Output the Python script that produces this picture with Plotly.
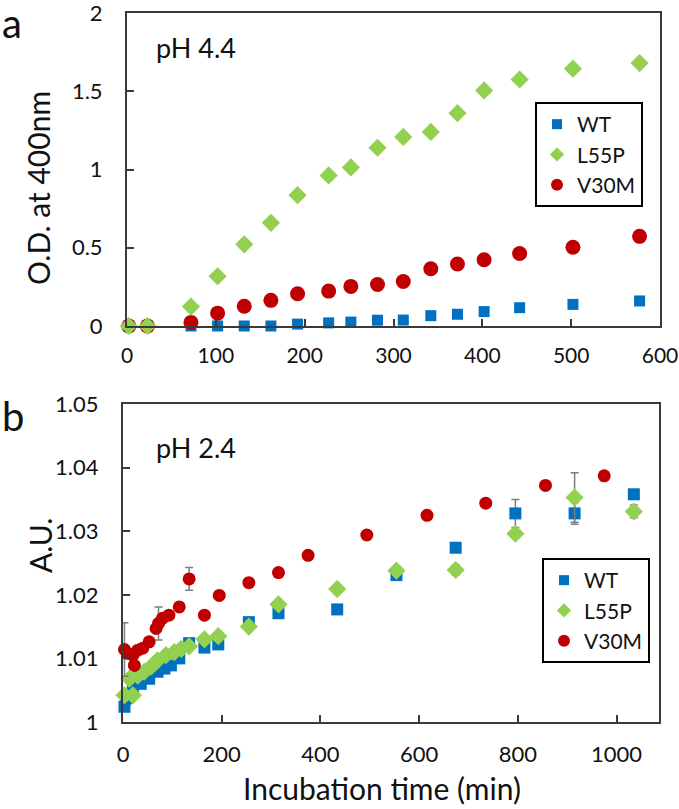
import plotly.graph_objects as go

# ---------------- Panel a (pH 4.4) ----------------
time_a = [2, 23, 72, 102, 132, 162, 192, 227, 252, 282, 311, 342, 372, 402, 442, 502, 577]
wt_a = [0, 0, 0, 0, 0, 0, 0.012, 0.02, 0.025, 0.037, 0.038, 0.066, 0.075, 0.092, 0.117, 0.138, 0.16]
l55p_a = [0, 0, 0.124, 0.318, 0.522, 0.659, 0.836, 0.962, 1.013, 1.139, 1.208, 1.24, 1.36, 1.505, 1.575, 1.644, 1.68]
v30m_a = [0, 0, 0.023, 0.082, 0.126, 0.164, 0.206, 0.223, 0.253, 0.265, 0.284, 0.366, 0.396, 0.423, 0.463, 0.503, 0.573]

# ---------------- Panel b (pH 2.4) ----------------
time_b_wt = [3, 6, 20, 36, 53, 70, 84, 97, 114, 134, 165, 193, 255, 315, 434, 554, 674, 795, 915, 1035]
wt_b = [1.0024, 1.0037, 1.0053, 1.0060, 1.0068, 1.0079, 1.0084, 1.0089, 1.0100, 1.0124, 1.0117, 1.0122,
        1.0157, 1.0171, 1.0177, 1.0231, 1.0274, 1.0328, 1.0328, 1.0358]
wt_b_err = [0.0004, 0.0004, 0.0004, 0.0004, 0.0004, 0.0004, 0.0004, 0.0004, 0.0004, 0.0005, 0.0005, 0.0005,
            0.0006, 0.0006, 0.0005, 0.0005, 0.0005, 0.0022, 0.0017, 0.0005]

time_b_l55p = [3, 13, 20, 30, 43, 57, 70, 87, 104, 118, 134, 165, 193, 255, 315, 434, 554, 674, 795, 915, 1035]
l55p_b = [1.0042, 1.0068, 1.0042, 1.0073, 1.0079, 1.0087, 1.0097, 1.0105, 1.0110, 1.0115, 1.0119, 1.0130,
          1.0135, 1.0150, 1.0185, 1.0209, 1.0238, 1.0239, 1.0296, 1.0353, 1.0331]
l55p_b_err = [0.0003, 0.0003, 0.0003, 0.0003, 0.0003, 0.0003, 0.0003, 0.0003, 0.0003, 0.0003, 0.0003, 0.0003,
              0.0003, 0.0006, 0.0005, 0.0004, 0.0004, 0.0008, 0.0004, 0.0039, 0.0010]

time_b_v30m = [3, 9, 20, 23, 30, 40, 53, 67, 72, 80, 93, 114, 134, 165, 195, 255, 315, 375, 494, 616, 735, 856, 975]
v30m_b = [1.0114, 1.0108, 1.0105, 1.0089, 1.0113, 1.0116, 1.0126, 1.0147, 1.0155, 1.0163, 1.0168, 1.0181,
          1.0225, 1.0168, 1.0199, 1.0219, 1.0235, 1.0262, 1.0294, 1.0325, 1.0344, 1.0372, 1.0387]
v30m_b_err = [0.0042, 0.0004, 0.0004, 0.0004, 0.0004, 0.0004, 0.0004, 0.0004, 0.0026, 0.0004, 0.0004, 0.0004,
              0.0018, 0.0004, 0.0004, 0.0004, 0.0004, 0.0004, 0.0004, 0.0004, 0.0004, 0.0004, 0.0006]

series_names = ["WT", "L55P", "V30M"]
x_ticks_a = [0, 100, 200, 300, 400, 500, 600]
y_ticks_a = [0, 0.5, 1, 1.5, 2]
y_ticklabels_a = ["0", "0.5", "1", "1.5", "2"]
x_ticks_b = [0, 200, 400, 600, 800, 1000]
y_ticks_b = [1.0, 1.01, 1.02, 1.03, 1.04, 1.05]
y_ticklabels_b = ["1", "1.01", "1.02", "1.03", "1.04", "1.05"]

BLUE = "#0070C0"
GREEN = "#92D050"
RED = "#C00000"
FONT = "Lato"
ERRC = "#7F7F7F"
TXT = "#111111"

symbols = ["square", "diamond", "circle"]
colors = [BLUE, GREEN, RED]
legend_sizes = [10, 11, 12]

fig = go.Figure()

# Panel a traces (drawn WT, V30M, L55P)
fig.add_trace(go.Scatter(x=time_a, y=wt_a, mode="markers", name=series_names[0], showlegend=False,
                         marker=dict(symbol="square", size=11, color=BLUE),
                         xaxis="x", yaxis="y", cliponaxis=False))
fig.add_trace(go.Scatter(x=time_a, y=v30m_a, mode="markers", name=series_names[2], showlegend=False,
                         marker=dict(symbol="circle", size=15, color=RED),
                         xaxis="x", yaxis="y", cliponaxis=False))
fig.add_trace(go.Scatter(x=time_a, y=l55p_a, mode="markers", name=series_names[1], showlegend=False,
                         marker=dict(symbol="diamond", size=14, color=GREEN),
                         xaxis="x", yaxis="y", cliponaxis=False))

# Panel b traces
def eb(arr):
    return dict(type="data", array=arr, color=ERRC, thickness=1.5, width=4)

fig.add_trace(go.Scatter(x=time_b_wt, y=wt_b, mode="markers", name=series_names[0], showlegend=False,
                         error_y=eb(wt_b_err),
                         marker=dict(symbol="square", size=12, color=BLUE),
                         xaxis="x2", yaxis="y2", cliponaxis=False))
fig.add_trace(go.Scatter(x=time_b_l55p, y=l55p_b, mode="markers", name=series_names[1], showlegend=False,
                         error_y=eb(l55p_b_err),
                         marker=dict(symbol="diamond", size=14, color=GREEN),
                         xaxis="x2", yaxis="y2", cliponaxis=False))
fig.add_trace(go.Scatter(x=time_b_v30m, y=v30m_b, mode="markers", name=series_names[2], showlegend=False,
                         error_y=eb(v30m_b_err),
                         marker=dict(symbol="circle", size=13, color=RED),
                         xaxis="x2", yaxis="y2", cliponaxis=False))

# Legend entries (smaller symbols, as in the reference legends)
for lg, (xa, ya) in (("legend", ("x", "y")), ("legend2", ("x2", "y2"))):
    for i, nm in enumerate(series_names):
        fig.add_trace(go.Scatter(x=[None], y=[None], mode="markers", name=nm,
                                 marker=dict(symbol=symbols[i], size=legend_sizes[i], color=colors[i]),
                                 xaxis=xa, yaxis=ya, legend=lg, showlegend=True))

W, H = 679, 809

def px_x(p):
    return p / W

def px_y(p):
    return 1 - p / H

axis_common = dict(showline=True, linecolor="#3a3a3a", linewidth=2, mirror=True,
                   ticks="inside", ticklen=7, tickwidth=1.5, tickcolor="#3a3a3a",
                   showgrid=False, zeroline=False, automargin=False,
                   ticklabeloverflow="allow")

legend_common = dict(xanchor="left", yanchor="top",
                     bordercolor="black", borderwidth=2, bgcolor="white",
                     font=dict(family=FONT, size=21, color=TXT), itemwidth=30,
                     traceorder="normal", tracegroupgap=0)

fig.update_layout(
    width=W, height=H,
    margin=dict(l=0, r=0, t=0, b=0, autoexpand=False),
    paper_bgcolor="white", plot_bgcolor="white",
    font=dict(family=FONT, color=TXT),
    xaxis=dict(domain=[px_x(127), px_x(660)], range=[0, 600], tickvals=x_ticks_a,
               anchor="y", ticklabelstandoff=10,
               tickfont=dict(family=FONT, size=21, color=TXT), **axis_common),
    yaxis=dict(domain=[px_y(326), px_y(13)], range=[0, 2], tickvals=y_ticks_a,
               ticktext=y_ticklabels_a, anchor="x", ticklabelstandoff=18,
               tickfont=dict(family=FONT, size=22, color=TXT), **axis_common),
    xaxis2=dict(domain=[px_x(123), px_x(659)], range=[0, 1086], tickvals=x_ticks_b,
                anchor="y2", ticklabelstandoff=12,
                tickfont=dict(family=FONT, size=22, color=TXT), **axis_common),
    yaxis2=dict(domain=[px_y(722), px_y(404)], range=[1.0, 1.05], tickvals=y_ticks_b,
                ticktext=y_ticklabels_b, anchor="x2", ticklabelstandoff=18,
                tickfont=dict(family=FONT, size=22, color=TXT), **axis_common),
    legend=dict(x=px_x(535), y=px_y(102), **legend_common),
    legend2=dict(x=px_x(542), y=px_y(558), **legend_common),
    showlegend=True,
)

annotations = [
    dict(text="a", x=px_x(1), y=px_y(23), font=dict(size=40), xanchor="left"),
    dict(text="b", x=px_x(1), y=px_y(416), font=dict(size=40), xanchor="left"),
    dict(text="pH 4.4", x=px_x(196), y=px_y(48), font=dict(size=27)),
    dict(text="pH 2.4", x=px_x(196), y=px_y(447), font=dict(size=27)),
    dict(text="O.D. at 400nm", x=px_x(38), y=px_y(188), font=dict(size=30), textangle=-90),
    dict(text="A.U.", x=px_x(40), y=px_y(546), font=dict(size=30), textangle=-90),
    dict(text="Incubation time (min)", x=px_x(382), y=px_y(788), font=dict(size=30)),
]
for a in annotations:
    a.setdefault("xanchor", "center")
    a.update(xref="paper", yref="paper", showarrow=False, yanchor="middle", borderpad=0)
    a["font"].update(family=FONT, color=TXT)
fig.update_layout(annotations=annotations)

# remove the default 8px page margin so the figure fills the window exactly
fig.write_html("out.html", config={"displayModeBar": False},
               post_script="document.body.style.margin='0';")
